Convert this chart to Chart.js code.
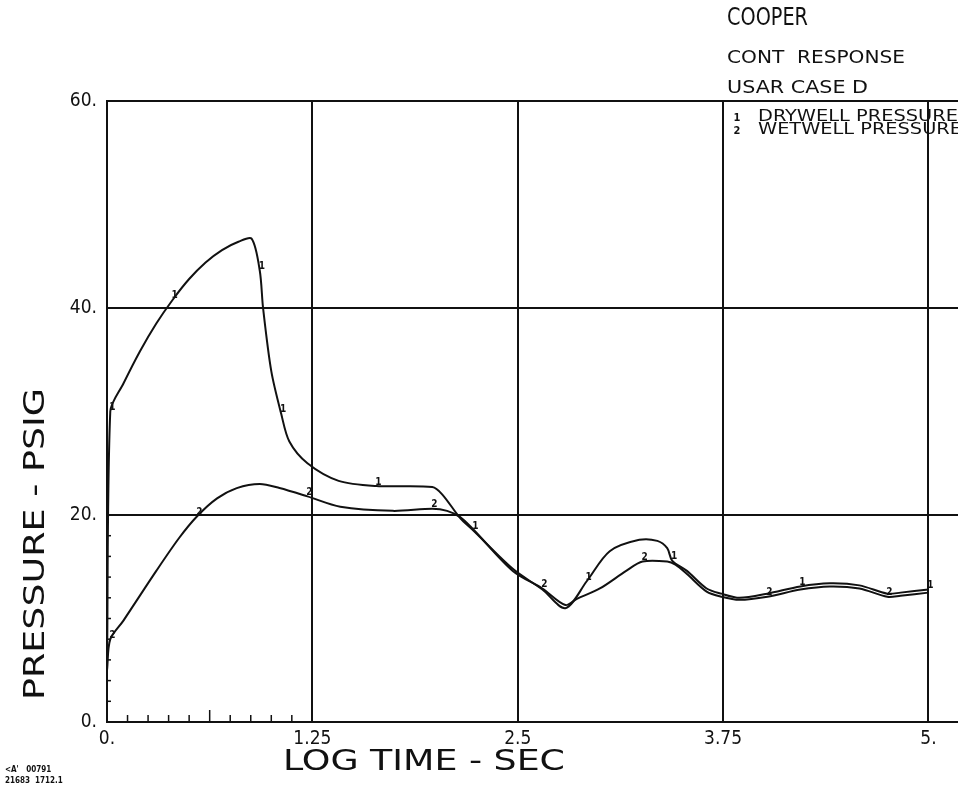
<!DOCTYPE html>
<html>
<head>
<meta charset="utf-8">
<script src="https://cdn.jsdelivr.net/npm/chart.js@4/dist/chart.umd.min.js"></script>
<style>
  html, body { margin: 0; padding: 0; background: #fff; }
  canvas { display: block; }
</style>
</head>
<body>
<canvas id="coopChart" width="958" height="785"></canvas>
<script>
var timeDry = [0, 0.02, 0.1, 0.2, 0.3, 0.4, 0.5, 0.6, 0.7, 0.8, 0.88, 0.93, 0.95, 1.0, 1.06, 1.11, 1.22, 1.41, 1.64, 1.98, 2.04, 2.15, 2.23, 2.47, 2.65, 2.79, 2.92, 3.06, 3.24, 3.35, 3.41, 3.44, 3.53, 3.65, 3.74, 3.85, 4.02, 4.22, 4.4, 4.58, 4.75, 4.83, 5.0];
var pressDry = [5, 30, 32.7, 35.8, 38.5, 40.8, 42.8, 44.4, 45.6, 46.4, 46.7, 43.6, 40, 33.9, 29.8, 27.1, 25.0, 23.3, 22.8, 22.7, 22.0, 19.7, 18.5, 14.8, 12.8, 11.0, 13.6, 16.5, 17.6, 17.5, 16.8, 15.6, 14.6, 12.9, 12.4, 12.0, 12.4, 13.1, 13.4, 13.2, 12.4, 12.5, 12.8];

var timeWet = [0, 0.02, 0.1, 0.3, 0.44, 0.55, 0.67, 0.79, 0.93, 1.05, 1.22, 1.42, 1.74, 1.98, 2.07, 2.15, 2.23, 2.47, 2.65, 2.79, 2.86, 3.0, 3.16, 3.26, 3.41, 3.46, 3.53, 3.65, 3.74, 3.85, 4.02, 4.22, 4.4, 4.58, 4.75, 4.83, 5.0];
var pressWet = [5, 8.0, 9.8, 14.6, 17.8, 19.9, 21.6, 22.6, 23.0, 22.6, 21.8, 20.8, 20.4, 20.6, 20.4, 19.8, 18.6, 14.6, 12.9, 11.3, 11.9, 12.9, 14.6, 15.5, 15.5, 15.2, 14.3, 12.6, 12.1, 11.8, 12.1, 12.8, 13.1, 12.9, 12.1, 12.2, 12.5];

// Kurvennummern auf den Linien (x-Positionen)
var markDry = [0.02, 0.4, 0.93, 1.06, 1.64, 2.23, 2.92, 3.44, 4.22, 5.0];
var markWet = [0.02, 0.55, 1.22, 1.98, 2.65, 3.26, 4.02, 4.75];

// kleine Teilstriche in der ersten Zelle
var minorX = [0.125, 0.25, 0.375, 0.5, 0.625, 0.75, 0.875, 1.0, 1.125];
var minorY = [2, 4, 6, 8, 10, 12, 14, 16, 18];

var titleLines = ['COOPER', 'CONT  RESPONSE', 'USAR CASE D'];
var legendLabels = ['DRYWELL PRESSURE', 'WETWELL PRESSURE'];

var FONT = "'DejaVu Sans Condensed', 'DejaVu Sans', sans-serif";

function toPoints(xs, ys) {
  return xs.map(function (x, i) { return { x: x, y: ys[i] }; });
}

// Text auf eine Zielbreite strecken (Plotter-Schrift ist breit)
function fitText(ctx, txt, x, y, size, w, rot) {
  ctx.save();
  ctx.font = size + 'px ' + FONT;
  ctx.textBaseline = 'middle';
  ctx.textAlign = 'left';
  var m = ctx.measureText(txt).width;
  ctx.translate(x, y);
  if (rot) ctx.rotate(rot);
  ctx.scale(w / m, 1);
  ctx.fillText(txt, 0, 0);
  ctx.restore();
}

var extras = {
  id: 'extras',
  afterDatasetsDraw: function (chart) {
    var ctx = chart.ctx;
    var xs = chart.scales.x, ys = chart.scales.y;
    ctx.save();
    ctx.fillStyle = '#111';
    ctx.strokeStyle = '#111';
    ctx.lineWidth = 1.5;

    // Teilstriche
    minorX.forEach(function (v) {
      var px = xs.getPixelForValue(v);
      var len = (v === 0.625) ? 12 : 7;
      ctx.beginPath();
      ctx.moveTo(px, ys.bottom);
      ctx.lineTo(px, ys.bottom - len);
      ctx.stroke();
    });
    minorY.forEach(function (v) {
      var py = ys.getPixelForValue(v);
      ctx.beginPath();
      ctx.moveTo(xs.left, py);
      ctx.lineTo(xs.left + 4, py);
      ctx.stroke();
    });

    // Kurvennummern
    ctx.font = 'bold 10px ' + FONT;
    ctx.textAlign = 'center';
    ctx.textBaseline = 'bottom';
    [[0, markDry, '1'], [1, markWet, '2']].forEach(function (s) {
      var meta = chart.getDatasetMeta(s[0]);
      var data = chart.data.datasets[s[0]].data;
      s[1].forEach(function (mx) {
        var best = 0;
        data.forEach(function (p, i) {
          if (Math.abs(p.x - mx) < Math.abs(data[best].x - mx)) best = i;
        });
        var el = meta.data[best];
        ctx.fillText(s[2], el.x + 2, el.y + 1);
      });
    });

    // Titelblock oben rechts
    fitText(ctx, titleLines[0], 727, 19, 24, 81);
    fitText(ctx, titleLines[1], 727, 58, 18, 178);
    fitText(ctx, titleLines[2], 727, 88, 18, 141);

    // Legende
    ctx.font = 'bold 11px ' + FONT;
    ctx.textAlign = 'center';
    ctx.textBaseline = 'middle';
    ctx.fillText('1', 737, 118);
    ctx.fillText('2', 737, 131);
    fitText(ctx, legendLabels[0], 758, 117, 15, 200);
    fitText(ctx, legendLabels[1], 758, 130, 15, 204);

    // Achsentitel
    fitText(ctx, 'LOG TIME - SEC', 283, 763, 28, 282);
    fitText(ctx, 'PRESSURE - PSIG', 37, 700, 28, 312, -Math.PI / 2);

    // Kennung unten links
    ctx.font = 'bold 8px ' + FONT;
    ctx.textAlign = 'left';
    ctx.fillText('<A\'   00791', 5, 770);
    ctx.fillText('21683  1712.1', 5, 781);
    ctx.restore();
  }
};

var ctx = document.getElementById('coopChart').getContext('2d');
var coopChart = new Chart(ctx, {
  type: 'line',
  data: {
    datasets: [{
      label: legendLabels[0],
      data: toPoints(timeDry, pressDry),
      borderColor: '#111',
      borderWidth: 2,
      pointRadius: 0,
      tension: 0.3
    }, {
      label: legendLabels[1],
      data: toPoints(timeWet, pressWet),
      borderColor: '#111',
      borderWidth: 2,
      pointRadius: 0,
      tension: 0.3
    }]
  },
  options: {
    responsive: false,
    animation: false,
    layout: { padding: { top: 101, right: 0, left: 0, bottom: 0 } },
    plugins: {
      legend: { display: false },
      tooltip: { enabled: false }
    },
    scales: {
      x: {
        type: 'linear',
        min: 0,
        max: 5.18,
        afterFit: function (s) { s.height = 63; },
        grid: { color: '#111', lineWidth: 2, tickLength: 0 },
        border: { color: '#111', width: 2 },
        ticks: {
          stepSize: 1.25,
          includeBounds: false,
          autoSkip: false,
          maxRotation: 0,
          padding: 6,
          color: '#111',
          font: { family: FONT, size: 19 },
          callback: function (v) { return Number.isInteger(v) ? v + '.' : String(v); }
        }
      },
      y: {
        min: 0,
        max: 60,
        afterFit: function (s) { s.width = 107; },
        grid: { color: '#111', lineWidth: 2, tickLength: 0 },
        border: { color: '#111', width: 2 },
        ticks: {
          stepSize: 20,
          padding: 10,
          color: '#111',
          font: { family: FONT, size: 19 },
          callback: function (v) { return v + '.'; }
        }
      }
    }
  },
  plugins: [extras]
});
</script>
</body>
</html>
